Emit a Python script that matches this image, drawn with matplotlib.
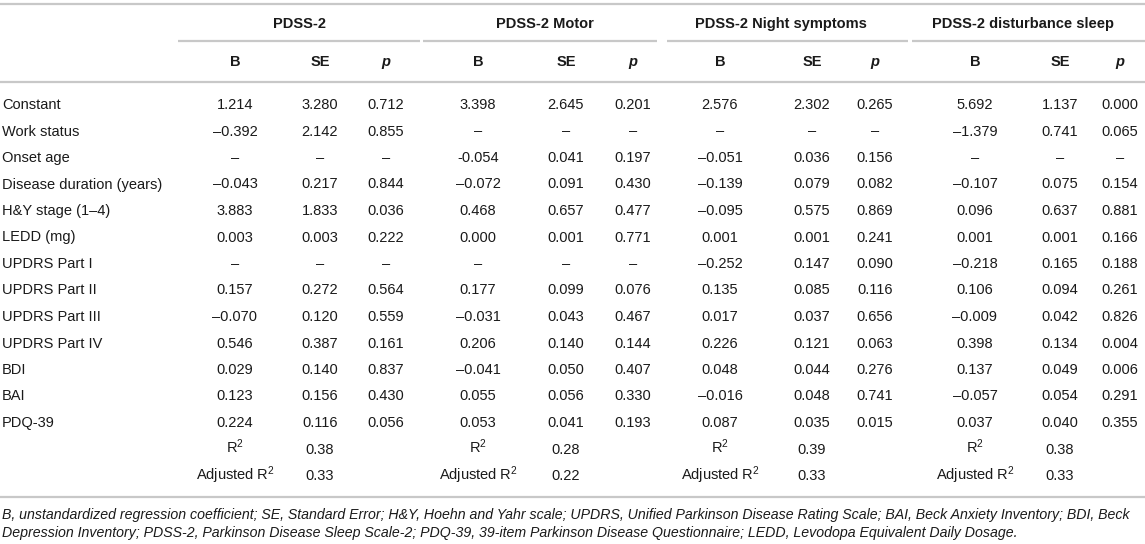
import matplotlib
matplotlib.use("Agg")
import matplotlib.pyplot as plt

plt.rcParams['font.family'] = ['Liberation Sans', 'DejaVu Sans']
plt.rcParams['mathtext.fontset'] = 'custom'
plt.rcParams['mathtext.rm'] = 'Liberation Sans'
plt.rcParams['mathtext.it'] = 'Liberation Sans:italic'

# table content
groups = ["PDSS-2", "PDSS-2 Motor", "PDSS-2 Night symptoms", "PDSS-2 disturbance sleep"]
sub_headers = ["B", "SE", "p"]

row_labels = ["Constant", "Work status", "Onset age", "Disease duration (years)",
              "H&Y stage (1–4)", "LEDD (mg)", "UPDRS Part I", "UPDRS Part II",
              "UPDRS Part III", "UPDRS Part IV", "BDI", "BAI", "PDQ-39"]

pdss_b = ["1.214", "–0.392", "–", "–0.043", "3.883", "0.003", "–", "0.157", "–0.070", "0.546", "0.029", "0.123", "0.224"]
pdss_se = ["3.280", "2.142", "–", "0.217", "1.833", "0.003", "–", "0.272", "0.120", "0.387", "0.140", "0.156", "0.116"]
pdss_p = ["0.712", "0.855", "–", "0.844", "0.036", "0.222", "–", "0.564", "0.559", "0.161", "0.837", "0.430", "0.056"]

motor_b = ["3.398", "–", "-0.054", "–0.072", "0.468", "0.000", "–", "0.177", "–0.031", "0.206", "–0.041", "0.055", "0.053"]
motor_se = ["2.645", "–", "0.041", "0.091", "0.657", "0.001", "–", "0.099", "0.043", "0.140", "0.050", "0.056", "0.041"]
motor_p = ["0.201", "–", "0.197", "0.430", "0.477", "0.771", "–", "0.076", "0.467", "0.144", "0.407", "0.330", "0.193"]

night_b = ["2.576", "–", "–0.051", "–0.139", "–0.095", "0.001", "–0.252", "0.135", "0.017", "0.226", "0.048", "–0.016", "0.087"]
night_se = ["2.302", "–", "0.036", "0.079", "0.575", "0.001", "0.147", "0.085", "0.037", "0.121", "0.044", "0.048", "0.035"]
night_p = ["0.265", "–", "0.156", "0.082", "0.869", "0.241", "0.090", "0.116", "0.656", "0.063", "0.276", "0.741", "0.015"]

sleep_b = ["5.692", "–1.379", "–", "–0.107", "0.096", "0.001", "–0.218", "0.106", "–0.009", "0.398", "0.137", "–0.057", "0.037"]
sleep_se = ["1.137", "0.741", "–", "0.075", "0.637", "0.001", "0.165", "0.094", "0.042", "0.134", "0.049", "0.054", "0.040"]
sleep_p = ["0.000", "0.065", "–", "0.154", "0.881", "0.166", "0.188", "0.261", "0.826", "0.004", "0.006", "0.291", "0.355"]

r_squared = ["0.38", "0.28", "0.39", "0.38"]
adj_r_squared = ["0.33", "0.22", "0.33", "0.33"]

footnote = ["B, unstandardized regression coefficient; SE, Standard Error; H&Y, Hoehn and Yahr scale; "
            "UPDRS, Unified Parkinson Disease Rating Scale; BAI, Beck Anxiety Inventory; BDI, Beck",
            "Depression Inventory; PDSS-2, Parkinson Disease Sleep Scale-2; PDQ-39, 39-item Parkinson "
            "Disease Questionnaire; LEDD, Levodopa Equivalent Daily Dosage."]

columns = [(pdss_b, pdss_se, pdss_p), (motor_b, motor_se, motor_p),
           (night_b, night_se, night_p), (sleep_b, sleep_se, sleep_p)]

# layout (pixels)
W, H = 1145, 544
col_x = [(235, 320, 386), (478, 566, 633), (720, 812, 875), (975, 1060, 1120)]
group_x = [300, 545, 781, 1023]
group_lines = [(178, 420), (423, 657), (667, 908), (912, 1145)]
row_y0, row_dy = 105, 26.5
txt_col = "#1a1a1a"
line_col = "#c8c8c8"
fs = 10.5
fs_note = 10.2

fig = plt.figure(figsize=(W / 100, H / 100), dpi=100)
ax = fig.add_axes([0, 0, 1, 1])
ax.set_xlim(0, W)
ax.set_ylim(H, 0)
ax.axis("off")

# rules
ax.hlines([4, 82, 497], 0, W, colors=line_col, linewidth=1.6)
for x0, x1 in group_lines:
    ax.hlines(41, x0, x1, colors=line_col, linewidth=1.6)

# headers
for gx, name in zip(group_x, groups):
    ax.text(gx, 24, name, ha="center", va="center", fontsize=fs, fontweight="bold", color=txt_col)
for cx in col_x:
    for x, sh in zip(cx, sub_headers):
        ax.text(x, 62, sh, ha="center", va="center", fontsize=fs, fontweight="bold",
                style="italic" if sh == "p" else "normal", color=txt_col)

# body
for i, lab in enumerate(row_labels):
    y = row_y0 + i * row_dy
    ax.text(2, y, lab, ha="left", va="center", fontsize=fs, color=txt_col)
    for cx, cols in zip(col_x, columns):
        for x, vals in zip(cx, cols):
            ax.text(x, y, vals[i], ha="center", va="center", fontsize=fs, color=txt_col)

y_r2 = row_y0 + len(row_labels) * row_dy
y_adj = y_r2 + row_dy
for cx, r2, adj in zip(col_x, r_squared, adj_r_squared):
    ax.text(cx[0], y_r2, "R$^2$", ha="center", va="baseline", fontsize=fs, color=txt_col,
            transform=ax.transData).set_y(y_r2 + 4)
    ax.text(cx[1], y_r2, r2, ha="center", va="center", fontsize=fs, color=txt_col)
    ax.text(cx[0], y_adj + 4, "Adjusted R$^2$", ha="center", va="baseline", fontsize=fs, color=txt_col)
    ax.text(cx[1], y_adj, adj, ha="center", va="center", fontsize=fs, color=txt_col)

# footnote
for k, line in enumerate(footnote):
    ax.text(2, 515 + k * 18, line, ha="left", va="center", fontsize=fs_note, style="italic", color=txt_col)

fig.savefig("out.png", dpi=100)
